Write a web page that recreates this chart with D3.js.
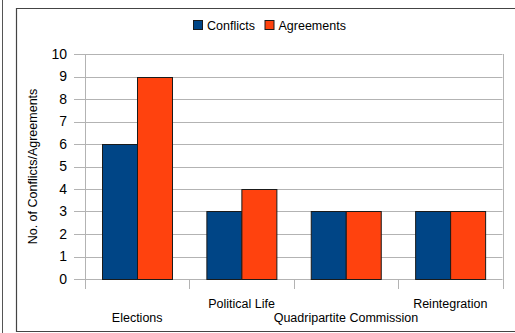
<!DOCTYPE html>
<html>
<head>
<meta charset="utf-8">
<script src="https://cdn.jsdelivr.net/npm/d3@7"></script>
<style>
  html, body { margin: 0; padding: 0; background: #fff; }
  svg { display: block; font-family: "Liberation Sans", Arial, sans-serif; }
</style>
</head>
<body>
<svg id="chart" width="515" height="333"></svg>
<script>
// Counts per topic area
const categories = ["Elections", "Political Life", "Quadripartite Commission", "Reintegration"];
const conflicts = [6, 3, 3, 3];
const agreements = [9, 4, 3, 3];
const seriesNames = ["Conflicts", "Agreements"];
const seriesColors = ["#004586", "#ff420e"];
const yTicks = [0, 1, 2, 3, 4, 5, 6, 7, 8, 9, 10];

const svg = d3.select("#chart");
const W = 515, H = 333;

// Outer frame lines
svg.append("line").attr("x1", 2.5).attr("x2", 2.5).attr("y1", 0).attr("y2", H)
  .attr("stroke", "#555").attr("stroke-width", 1);
svg.append("path")
  .attr("d", `M${W},8.5 H16.5 V331.5 H${W}`)
  .attr("fill", "none").attr("stroke", "#444").attr("stroke-width", 1.2);

const plot = { left: 85, right: 502.5, top: 54, bottom: 279 };

const x = d3.scaleBand().domain(categories).range([plot.left, plot.right]).padding(0);
const inner = d3.scaleBand().domain(seriesNames).range([0, x.bandwidth()]).paddingInner(0).paddingOuter(0.49);
const y = d3.scaleLinear().domain([0, 10]).range([plot.bottom, plot.top]);

// Horizontal gridlines with small outer ticks
const grid = svg.append("g");
yTicks.forEach(t => {
  grid.append("line")
    .attr("x1", plot.left - 11).attr("x2", plot.right)
    .attr("y1", Math.round(y(t)) + 0.5).attr("y2", Math.round(y(t)) + 0.5)
    .attr("stroke", "#b3b3b3").attr("stroke-width", 1);
});

// Y axis labels
const yAxis = d3.axisLeft(y).tickValues(yTicks).tickSize(0).tickPadding(18);
const gy = svg.append("g").attr("transform", `translate(${plot.left},0)`).call(yAxis);
gy.select(".domain").remove();
gy.selectAll("text").attr("font-size", 14).attr("fill", "#000")
  .attr("font-family", "'Liberation Sans', Arial, sans-serif");

// Vertical axis line and category separators
const seps = [plot.left].concat(categories.map(c => x(c) + x.bandwidth()));
seps.forEach((sx, i) => {
  svg.append("line")
    .attr("x1", Math.round(sx) + 0.5).attr("x2", Math.round(sx) + 0.5)
    .attr("y1", i === 0 || i === seps.length - 1 ? plot.top : plot.bottom)
    .attr("y2", plot.bottom + 10)
    .attr("stroke", "#b3b3b3").attr("stroke-width", 1);
});

// Bars
const data = categories.map((c, i) => ({ cat: c, vals: [conflicts[i], agreements[i]] }));
const groups = svg.append("g").selectAll("g").data(data).join("g")
  .attr("transform", d => `translate(${x(d.cat)},0)`);
groups.selectAll("rect")
  .data(d => d.vals.map((v, j) => ({ name: seriesNames[j], v, j })))
  .join("rect")
  .attr("x", d => Math.round(inner(d.name)) + 0.5)
  .attr("y", d => Math.round(y(d.v)) + 0.5)
  .attr("width", Math.round(inner.bandwidth()))
  .attr("height", d => Math.round(y(0)) - Math.round(y(d.v)))
  .attr("fill", d => seriesColors[d.j])
  .attr("stroke", "#1a1a1a").attr("stroke-width", 1);

// Category labels, staggered on two rows
svg.append("g").selectAll("text").data(categories).join("text")
  .attr("x", d => x(d) + x.bandwidth() / 2)
  .attr("y", (d, i) => i % 2 === 0 ? 322 : 308)
  .attr("text-anchor", "middle")
  .attr("font-size", 12.5)
  .attr("fill", "#000")
  .text(d => d);

// Y axis title
svg.append("text")
  .attr("transform", `translate(37,${(plot.top + plot.bottom) / 2}) rotate(-90)`)
  .attr("text-anchor", "middle")
  .attr("font-size", 12.5)
  .attr("fill", "#000")
  .text("No. of Conflicts/Agreements");

// Legend
const legendX = [193, 264.5];
const legend = svg.append("g");
seriesNames.forEach((n, i) => {
  legend.append("rect")
    .attr("x", legendX[i] + 0.5).attr("y", 20.5)
    .attr("width", 9).attr("height", 9)
    .attr("fill", seriesColors[i]).attr("stroke", "#1a1a1a").attr("stroke-width", 1);
  legend.append("text")
    .attr("x", legendX[i] + 14).attr("y", 29.5)
    .attr("font-size", 12.5).attr("fill", "#000")
    .text(n);
});
</script>
</body>
</html>
